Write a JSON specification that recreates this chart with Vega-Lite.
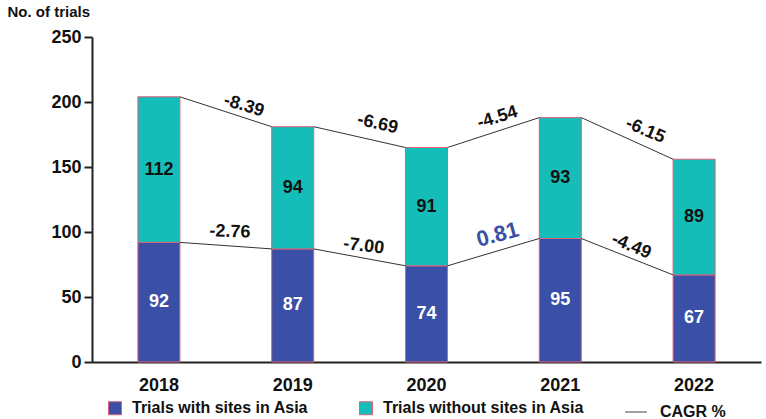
{
  "$schema": "https://vega.github.io/schema/vega-lite/v6.json",
  "width": 669,
  "height": 325,
  "autosize": {"type": "none"},
  "padding": {"left": 92, "top": 37, "right": 5, "bottom": 57},
  "config": {"font": "Liberation Sans", "view": {"stroke": null}},
  "datasets": {
    "bars": [
      {"year": "2018", "series": "Trials with sites in Asia", "value": 92},
      {"year": "2018", "series": "Trials without sites in Asia", "value": 112},
      {"year": "2019", "series": "Trials with sites in Asia", "value": 87},
      {"year": "2019", "series": "Trials without sites in Asia", "value": 94},
      {"year": "2020", "series": "Trials with sites in Asia", "value": 74},
      {"year": "2020", "series": "Trials without sites in Asia", "value": 91},
      {"year": "2021", "series": "Trials with sites in Asia", "value": 95},
      {"year": "2021", "series": "Trials without sites in Asia", "value": 93},
      {"year": "2022", "series": "Trials with sites in Asia", "value": 67},
      {"year": "2022", "series": "Trials without sites in Asia", "value": 89}
    ],
    "segments": [
      {"from": "2018", "to": "2019", "start": 204, "end": 181},
      {"from": "2019", "to": "2020", "start": 181, "end": 165},
      {"from": "2020", "to": "2021", "start": 165, "end": 188},
      {"from": "2021", "to": "2022", "start": 188, "end": 156},
      {"from": "2018", "to": "2019", "start": 92, "end": 87},
      {"from": "2019", "to": "2020", "start": 87, "end": 74},
      {"from": "2020", "to": "2021", "start": 74, "end": 95},
      {"from": "2021", "to": "2022", "start": 95, "end": 67}
    ],
    "cagr": [
      {"from": "2018", "label": "-8.39", "pos": 197},
      {"from": "2019", "label": "-6.69", "pos": 183},
      {"from": "2020", "label": "-4.54", "pos": 188},
      {"from": "2021", "label": "-6.15", "pos": 178},
      {"from": "2018", "label": "-2.76", "pos": 100},
      {"from": "2019", "label": "-7.00", "pos": 89},
      {"from": "2020", "label": "0.81", "pos": 98},
      {"from": "2021", "label": "-4.49", "pos": 89}
    ]
  },
  "layer": [
    {
      "data": {"name": "bars"},
      "mark": {"type": "bar", "stroke": "#e0607a", "strokeWidth": 1},
      "encoding": {
        "x": {
          "field": "year", "type": "nominal",
          "scale": {"paddingInner": 0.686, "paddingOuter": 0.343},
          "axis": {
            "title": null, "labelAngle": 0, "ticks": false,
            "domainColor": "#222222", "domainWidth": 2,
            "labelFontSize": 18, "labelFontWeight": "bold", "labelColor": "#111111",
            "labelPadding": 14
          }
        },
        "y": {
          "field": "value", "type": "quantitative", "stack": "zero",
          "scale": {"domain": [0, 250], "nice": false},
          "axis": {
            "values": [0, 50, 100, 150, 200, 250], "grid": false,
            "domainColor": "#222222", "domainWidth": 2,
            "tickColor": "#222222", "tickWidth": 2, "tickSize": 8,
            "labelFontSize": 18, "labelFontWeight": "bold", "labelColor": "#111111",
            "labelPadding": 3,
            "title": "No. of trials", "titleAngle": 0, "titleAlign": "left",
            "titleBaseline": "top", "titleX": -85, "titleY": -33,
            "titleFontSize": 15, "titleFontWeight": "bold", "titleColor": "#111111"
          }
        },
        "color": {
          "field": "series", "type": "nominal",
          "scale": {
            "domain": ["Trials with sites in Asia", "Trials without sites in Asia"],
            "range": ["#3a4fa6", "#15bdb8"]
          },
          "legend": {
            "title": null, "orient": "none", "direction": "horizontal",
            "legendX": 15, "legendY": 363,
            "symbolType": "square", "symbolSize": 169, "symbolOpacity": 1,
            "symbolStrokeColor": "#e0607a", "symbolStrokeWidth": 1,
            "labelFontSize": 16, "labelFontWeight": "bold", "labelColor": "#111111",
            "labelOffset": 9, "columnPadding": 48, "labelLimit": 300
          }
        },
        "order": {"field": "series", "sort": "ascending"}
      }
    },
    {
      "data": {"name": "bars"},
      "transform": [
        {"stack": "value", "groupby": ["year"], "sort": [{"field": "series", "order": "ascending"}], "as": ["v0", "v1"]},
        {"calculate": "(datum.v0 + datum.v1) / 2", "as": "mid"}
      ],
      "mark": {"type": "text", "fontSize": 18, "fontWeight": "bold", "baseline": "middle"},
      "encoding": {
        "x": {"field": "year", "type": "nominal"},
        "y": {"field": "mid", "type": "quantitative"},
        "text": {"field": "value", "type": "quantitative"},
        "color": {
          "condition": {"test": "datum.series === 'Trials with sites in Asia'", "value": "#ffffff"},
          "value": "#111111"
        }
      }
    },
    {
      "data": {"name": "segments"},
      "mark": {"type": "rule", "strokeWidth": 1, "xOffset": 21, "x2Offset": -21},
      "encoding": {
        "x": {"field": "from", "type": "nominal"},
        "x2": {"field": "to"},
        "y": {"field": "start", "type": "quantitative"},
        "y2": {"field": "end"},
        "stroke": {
          "datum": "CAGR %", "type": "nominal",
          "scale": {"range": ["#333333"]},
          "legend": {
            "title": null, "orient": "none", "legendX": 532, "legendY": 363,
            "symbolType": "stroke", "symbolSize": 484,
            "symbolStrokeWidth": 2, "symbolOpacity": 0.45,
            "labelFontSize": 16, "labelFontWeight": "bold", "labelColor": "#111111",
            "labelOffset": 12
          }
        }
      }
    },
    {
      "data": {"name": "cagr"},
      "transform": [{"filter": {"field": "label", "oneOf": ["-8.39", "-6.69", "-6.15"]}}],
      "mark": {"type": "text", "fontSize": 18, "fontWeight": "bold", "baseline": "middle", "align": "center", "xOffset": 85},
      "encoding": {
        "x": {"field": "from", "type": "nominal"},
        "y": {"field": "pos", "type": "quantitative"},
        "text": {"field": "label"},
        "color": {"value": "#111111"},
        "angle": {
          "condition": [
            {"test": "datum.label === '-8.39'", "value": 17},
            {"test": "datum.label === '-6.69'", "value": 13}
          ],
          "value": 23
        }
      }
    },
    {
      "data": {"name": "cagr"},
      "transform": [{"filter": {"field": "label", "oneOf": ["-4.54", "-2.76", "-7.00", "0.81", "-4.49"]}}],
      "mark": {"type": "text", "fontSize": 18, "fontWeight": "bold", "baseline": "middle", "align": "center", "xOffset": 71},
      "encoding": {
        "x": {"field": "from", "type": "nominal"},
        "y": {"field": "pos", "type": "quantitative"},
        "text": {"field": "label"},
        "color": {
          "condition": {"test": "datum.label === '0.81'", "value": "#3a4fa6"},
          "value": "#111111"
        },
        "size": {
          "condition": {"test": "datum.label === '0.81'", "value": 22},
          "value": 18
        },
        "angle": {
          "condition": [
            {"test": "datum.label === '-4.54'", "value": -17},
            {"test": "datum.label === '-2.76'", "value": 2},
            {"test": "datum.label === '-7.00'", "value": 7},
            {"test": "datum.label === '0.81'", "value": -15}
          ],
          "value": 23
        }
      }
    }
  ]
}
